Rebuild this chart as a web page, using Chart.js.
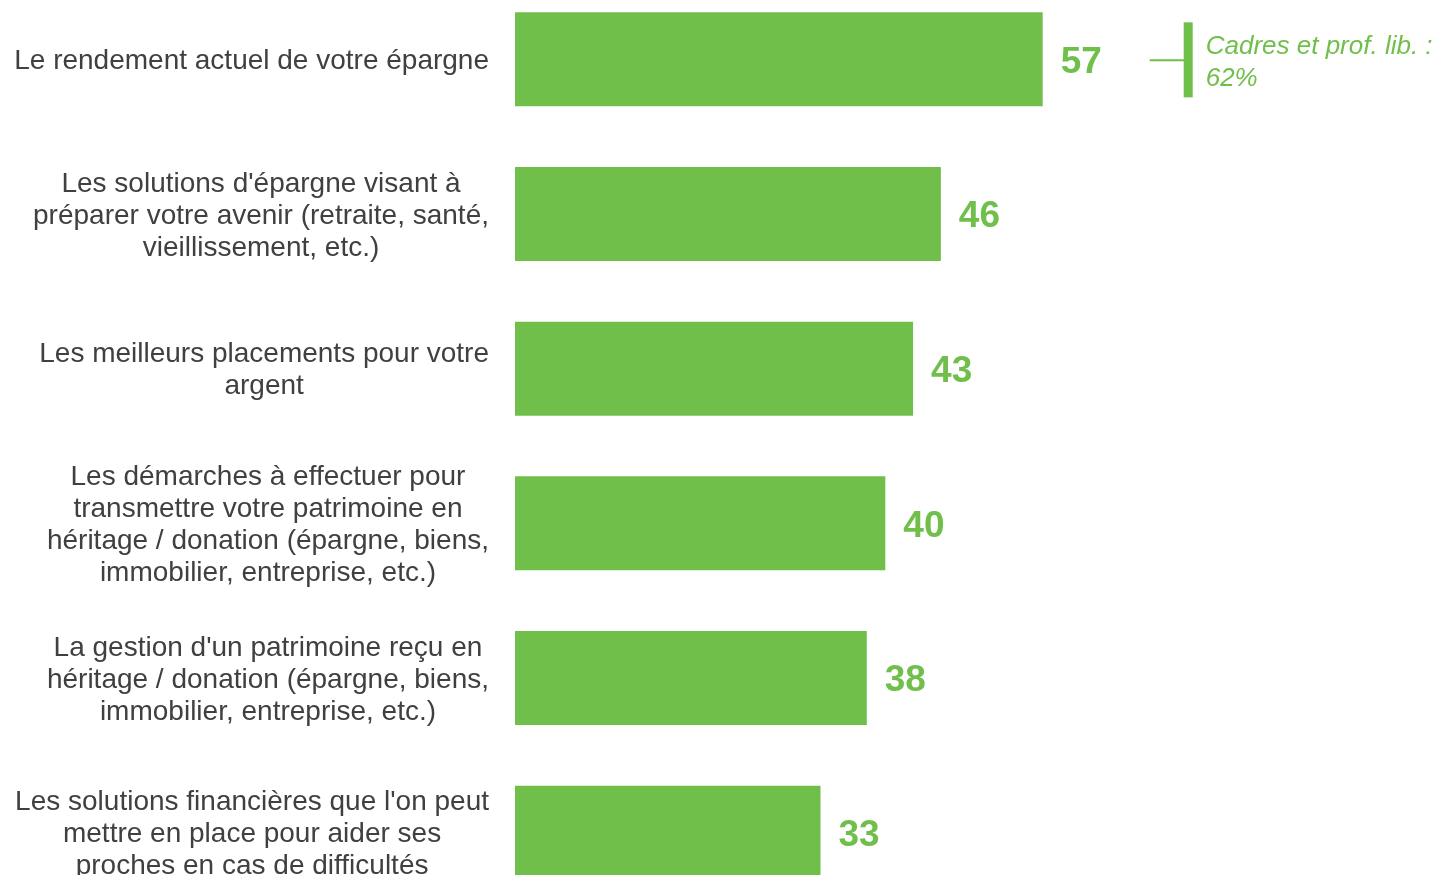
<!DOCTYPE html>
<html>
<head>
<meta charset="utf-8">
<script src="https://cdn.jsdelivr.net/npm/chart.js@4"></script>
<style>
  html, body { margin: 0; padding: 0; background: #fff; overflow: hidden; }
  #wrap { position: absolute; left: 0; top: -18px; width: 1441px; height: 928px; }
</style>
</head>
<body>
<div id="wrap"><canvas id="chart"></canvas></div>
<script>
const categories = [
  [ 'Le rendement actuel de votre épargne' ],
  [ 'Les solutions d\'épargne visant à', 'préparer votre avenir (retraite, santé,', 'vieillissement, etc.)' ],
  [ 'Les meilleurs placements pour votre', 'argent' ],
  [ 'Les démarches à effectuer pour', 'transmettre votre patrimoine en', 'héritage / donation (épargne, biens,', 'immobilier, entreprise, etc.)' ],
  [ 'La gestion d\'un patrimoine reçu en', 'héritage / donation (épargne, biens,', 'immobilier, entreprise, etc.)' ],
  [ 'Les solutions financières que l\'on peut', 'mettre en place pour aider ses', 'proches en cas de difficultés' ]
];
const values = [ 57, 46, 43, 40, 38, 33 ];
const calloutLines = [ 'Cadres et prof. lib. :', '62%' ];

const GREEN = '#70bf4b';
const TEXT = '#404040';
const FONT = '"Liberation Sans", Arial, sans-serif';

// category labels, each block centred on itself, right edge near the bars
const labelPlugin = {
  id: 'blockLabels',
  afterDraw(chart) {
    const ctx = chart.ctx;
    const y = chart.scales.y;
    const right = chart.chartArea.left - 26;
    ctx.save();
    ctx.font = '28px ' + FONT;
    ctx.fillStyle = TEXT;
    ctx.textAlign = 'center';
    ctx.textBaseline = 'middle';
    categories.forEach(function(lines, i) {
      const w = Math.max.apply(null, lines.map(function(l) { return ctx.measureText(l).width; }));
      const cx = right - w / 2;
      const cy = y.getPixelForValue(i) + 2;
      const top = cy - (lines.length - 1) * 32 / 2;
      lines.forEach(function(l, j) {
        ctx.fillText(l, cx, top + j * 32);
      });
    });
    ctx.restore();
  }
};

// value next to each bar + callout on the first one
const valuePlugin = {
  id: 'values',
  afterDatasetsDraw(chart) {
    const ctx = chart.ctx;
    const x = chart.scales.x;
    const y = chart.scales.y;
    ctx.save();
    ctx.font = 'bold 37px ' + FONT;
    ctx.fillStyle = GREEN;
    ctx.textAlign = 'left';
    ctx.textBaseline = 'middle';
    values.forEach(function(v, i) {
      ctx.fillText(String(v), x.getPixelForValue(v) + 18, y.getPixelForValue(i) + 3);
    });

    const cy = y.getPixelForValue(0);
    const x0 = x.getPixelForValue(values[0]) + 107;
    ctx.strokeStyle = GREEN;
    ctx.lineWidth = 2;
    ctx.beginPath();
    ctx.moveTo(x0, cy + 1);
    ctx.lineTo(x0 + 36, cy + 1);
    ctx.stroke();
    ctx.fillRect(x0 + 34, cy - 37, 9, 75);

    ctx.font = 'italic 26px ' + FONT;
    calloutLines.forEach(function(l, j) {
      ctx.fillText(l, x0 + 56, cy - 13 + j * 32);
    });
    ctx.restore();
  }
};

new Chart(document.getElementById('chart'), {
  type: 'bar',
  data: {
    labels: categories,
    datasets: [{
      data: values,
      backgroundColor: GREEN,
      borderWidth: 0,
      categoryPercentage: 1,
      barPercentage: 0.608
    }]
  },
  options: {
    indexAxis: 'y',
    responsive: true,
    maintainAspectRatio: false,
    animation: false,
    layout: { padding: { left: 515, right: 3, top: 0, bottom: 0 } },
    plugins: {
      legend: { display: false },
      tooltip: { enabled: false }
    },
    scales: {
      x: { display: false, min: 0, max: 99.7 },
      y: { display: false, offset: true }
    }
  },
  plugins: [ labelPlugin, valuePlugin ]
});
</script>
</body>
</html>
